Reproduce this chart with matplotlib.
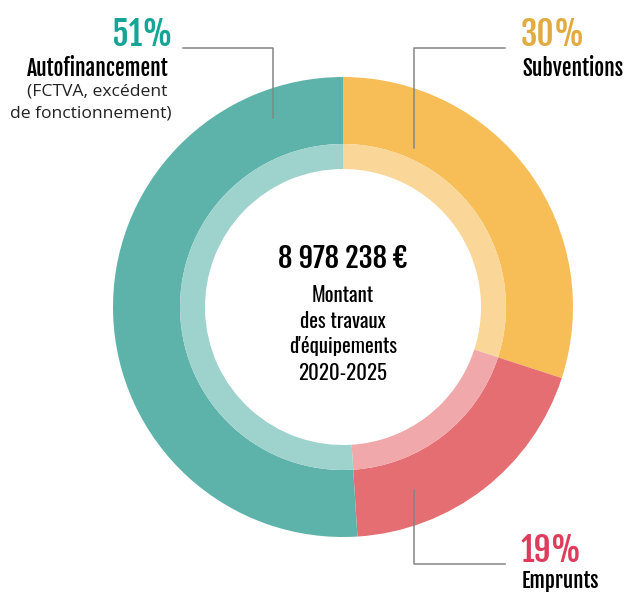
import matplotlib
matplotlib.use("Agg")
import matplotlib.pyplot as plt

# data, in the order the ring is drawn (clockwise from 12 o'clock)
labels = ["Subventions", "Emprunts", "Autofinancement"]
shares = [30, 19, 51]
pct_text = ["30%", "19%", "51%"]
outer_cols = ["#f7be57", "#e56e72", "#5db3aa"]
inner_cols = ["#fad698", "#f0a8aa", "#9ed2cd"]
pct_cols = ["#e3aa3f", "#dd3c5c", "#14a597"]
total_text = "8 978 238 €"
center_lines = ["Montant", "des travaux", "d'équipements", "2020-2025"]

W, H = 628, 594
heavy = ["Fjalla One", "DejaVu Sans"]
cond = ["Oswald", "DejaVu Sans"]
plain = ["Open Sans", "DejaVu Sans"]

fig = plt.figure(figsize=(W / 100, H / 100), dpi=100)
ax = fig.add_axes([0, 0, 1, 1])

def Y(y):
	# image pixel row -> data y
	return H - y

cx, cy = 343, Y(307)
ax.pie(shares, colors=outer_cols, startangle=90, counterclock=False,
	radius=230, center=(cx, cy), wedgeprops=dict(width=67, linewidth=0))
ax.pie(shares, colors=inner_cols, startangle=90, counterclock=False,
	radius=163, center=(cx, cy), wedgeprops=dict(width=25, linewidth=0))

ax.set_xlim(0, W)
ax.set_ylim(0, H)
ax.set_aspect("equal")
ax.axis("off")

#leader lines
lc = "#858585"
ax.plot([183, 273, 273], [Y(47.5), Y(47.5), Y(118)], color=lc, lw=1.1)
ax.plot([505, 414, 414], [Y(47.5), Y(47.5), Y(148)], color=lc, lw=1.1)
ax.plot([414, 414, 505], [Y(490), Y(563.5), Y(563.5)], color=lc, lw=1.1)

#labels
big = 24
mid = 15.5
ax.text(173, Y(31), pct_text[2], color=pct_cols[2], family=heavy,
	fontsize=big, ha="right", va="center_baseline")
ax.text(168, Y(66), labels[2], color="black", family=heavy,
	fontsize=mid, ha="right", va="center_baseline")
ax.text(167, Y(91), "(FCTVA, excédent", color="#222222", family=plain,
	fontsize=12.6, ha="right", va="center")
ax.text(172, Y(114), "de fonctionnement)", color="#222222", family=plain,
	fontsize=12.6, ha="right", va="center")

ax.text(521, Y(31), pct_text[0], color=pct_cols[0], family=heavy,
	fontsize=big, ha="left", va="center_baseline")
ax.text(522, Y(66), labels[0], color="black", family=heavy,
	fontsize=mid, ha="left", va="center_baseline")

ax.text(521, Y(547), pct_text[1], color=pct_cols[1], family=heavy,
	fontsize=big, ha="left", va="center_baseline")
ax.text(522, Y(579), labels[1], color="black", family=heavy,
	fontsize=15, ha="left", va="center_baseline")

#center
ax.text(343, Y(256), total_text, color="black", family=heavy,
	fontsize=20.5, ha="center", va="center_baseline")
for i, line in enumerate(center_lines):
	ax.text(343, Y(293 + 26 * i), line, color="black", family=cond,
		fontsize=15, ha="center", va="center_baseline")

fig.savefig("out.png", dpi=100)
